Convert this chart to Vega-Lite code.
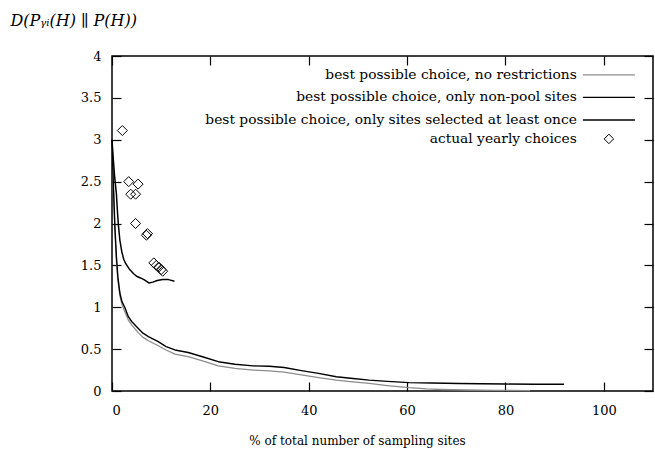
{
  "$schema": "https://vega.github.io/schema/vega-lite/v6.json",
  "width": 541,
  "height": 335,
  "autosize": {"type": "none"},
  "padding": {"left": 112, "top": 56, "right": 2, "bottom": 61},
  "background": "white",
  "config": {
    "font": "DejaVu Serif",
    "view": {"stroke": "#000", "strokeWidth": 1.5},
    "axis": {
      "domain": false,
      "grid": false,
      "labelFont": "DejaVu Serif",
      "labelFontSize": 13,
      "labelColor": "#000",
      "tickColor": "#000",
      "tickWidth": 1.2,
      "titleFont": "DejaVu Serif",
      "titleFontSize": 12,
      "titleFontWeight": "normal",
      "titleColor": "#000"
    },
    "legend": {
      "labelFont": "DejaVu Serif",
      "labelFontSize": 13.8,
      "labelColor": "#000",
      "labelLimit": 0,
      "padding": 0
    }
  },
  "datasets": {
    "lines": [
      {"s": "a", "x": 0, "y": 2.98}, {"s": "a", "x": 0.2, "y": 2.55}, {"s": "a", "x": 0.4, "y": 2.22}, {"s": "a", "x": 0.6, "y": 1.9}, {"s": "a", "x": 0.9, "y": 1.55}, {"s": "a", "x": 1.2, "y": 1.32}, {"s": "a", "x": 1.6, "y": 1.14}, {"s": "a", "x": 2.0, "y": 1.04}, {"s": "a", "x": 2.6, "y": 0.95}, {"s": "a", "x": 3.3, "y": 0.85}, {"s": "a", "x": 4.0, "y": 0.79}, {"s": "a", "x": 5.3, "y": 0.7}, {"s": "a", "x": 6.3, "y": 0.64}, {"s": "a", "x": 7.4, "y": 0.6}, {"s": "a", "x": 9.4, "y": 0.54}, {"s": "a", "x": 11, "y": 0.49}, {"s": "a", "x": 12.8, "y": 0.44}, {"s": "a", "x": 15.5, "y": 0.41}, {"s": "a", "x": 18.9, "y": 0.35}, {"s": "a", "x": 21.6, "y": 0.3}, {"s": "a", "x": 25, "y": 0.27}, {"s": "a", "x": 28.7, "y": 0.25}, {"s": "a", "x": 32, "y": 0.24}, {"s": "a", "x": 35, "y": 0.225}, {"s": "a", "x": 38.8, "y": 0.19}, {"s": "a", "x": 42, "y": 0.16}, {"s": "a", "x": 45.6, "y": 0.13}, {"s": "a", "x": 49, "y": 0.11}, {"s": "a", "x": 52.3, "y": 0.09}, {"s": "a", "x": 56, "y": 0.065}, {"s": "a", "x": 60.4, "y": 0.04}, {"s": "a", "x": 64, "y": 0.025}, {"s": "a", "x": 67.1, "y": 0.018}, {"s": "a", "x": 72, "y": 0.012}, {"s": "a", "x": 78, "y": 0.008}, {"s": "a", "x": 85, "y": 0.005},
      {"s": "b", "x": 0, "y": 3.0}, {"s": "b", "x": 0.2, "y": 2.6}, {"s": "b", "x": 0.4, "y": 2.27}, {"s": "b", "x": 0.6, "y": 1.95}, {"s": "b", "x": 0.9, "y": 1.6}, {"s": "b", "x": 1.2, "y": 1.36}, {"s": "b", "x": 1.6, "y": 1.17}, {"s": "b", "x": 2.0, "y": 1.07}, {"s": "b", "x": 2.6, "y": 1.0}, {"s": "b", "x": 3.3, "y": 0.89}, {"s": "b", "x": 4.0, "y": 0.83}, {"s": "b", "x": 5.3, "y": 0.75}, {"s": "b", "x": 6.3, "y": 0.69}, {"s": "b", "x": 7.4, "y": 0.65}, {"s": "b", "x": 9.4, "y": 0.59}, {"s": "b", "x": 11, "y": 0.53}, {"s": "b", "x": 12.8, "y": 0.49}, {"s": "b", "x": 15.5, "y": 0.46}, {"s": "b", "x": 18.9, "y": 0.4}, {"s": "b", "x": 21.6, "y": 0.35}, {"s": "b", "x": 25, "y": 0.32}, {"s": "b", "x": 28.7, "y": 0.3}, {"s": "b", "x": 32, "y": 0.295}, {"s": "b", "x": 35, "y": 0.28}, {"s": "b", "x": 38.8, "y": 0.24}, {"s": "b", "x": 42, "y": 0.21}, {"s": "b", "x": 45.6, "y": 0.17}, {"s": "b", "x": 49, "y": 0.15}, {"s": "b", "x": 52.3, "y": 0.13}, {"s": "b", "x": 56, "y": 0.115}, {"s": "b", "x": 60.4, "y": 0.1}, {"s": "b", "x": 65, "y": 0.095}, {"s": "b", "x": 70.6, "y": 0.09}, {"s": "b", "x": 75, "y": 0.087}, {"s": "b", "x": 80, "y": 0.083}, {"s": "b", "x": 86, "y": 0.08}, {"s": "b", "x": 91.9, "y": 0.08},
      {"s": "c", "x": 0, "y": 3.0}, {"s": "c", "x": 0.25, "y": 2.78}, {"s": "c", "x": 0.55, "y": 2.55}, {"s": "c", "x": 0.9, "y": 2.35}, {"s": "c", "x": 1.1, "y": 2.15}, {"s": "c", "x": 1.3, "y": 1.98}, {"s": "c", "x": 1.6, "y": 1.8}, {"s": "c", "x": 2.0, "y": 1.66}, {"s": "c", "x": 2.4, "y": 1.57}, {"s": "c", "x": 2.8, "y": 1.52}, {"s": "c", "x": 3.6, "y": 1.45}, {"s": "c", "x": 4.4, "y": 1.4}, {"s": "c", "x": 5.0, "y": 1.37}, {"s": "c", "x": 5.8, "y": 1.35}, {"s": "c", "x": 6.5, "y": 1.33}, {"s": "c", "x": 7.5, "y": 1.29}, {"s": "c", "x": 8.3, "y": 1.3}, {"s": "c", "x": 9.2, "y": 1.32}, {"s": "c", "x": 10.3, "y": 1.33}, {"s": "c", "x": 11.5, "y": 1.33}, {"s": "c", "x": 12.7, "y": 1.31}
    ],
    "points": [
      {"k": "actual yearly choices", "x": 2.1, "y": 3.11}, {"k": "actual yearly choices", "x": 3.4, "y": 2.5}, {"k": "actual yearly choices", "x": 5.3, "y": 2.47}, {"k": "actual yearly choices", "x": 3.8, "y": 2.35}, {"k": "actual yearly choices", "x": 4.8, "y": 2.35}, {"k": "actual yearly choices", "x": 4.8, "y": 2.0}, {"k": "actual yearly choices", "x": 7.0, "y": 1.86}, {"k": "actual yearly choices", "x": 7.2, "y": 1.88}, {"k": "actual yearly choices", "x": 8.5, "y": 1.53}, {"k": "actual yearly choices", "x": 9.0, "y": 1.5}, {"k": "actual yearly choices", "x": 9.5, "y": 1.48}, {"k": "actual yearly choices", "x": 10.0, "y": 1.45}, {"k": "actual yearly choices", "x": 10.3, "y": 1.43}
    ]
  },
  "layer": [
    {
      "data": {"name": "lines"},
      "mark": {"type": "line", "strokeJoin": "round"},
      "encoding": {
        "x": {
          "field": "x", "type": "quantitative",
          "scale": {"domain": [0, 110], "nice": false, "zero": false},
          "axis": {
            "orient": "bottom",
            "values": [0, 20, 40, 60, 80, 100],
            "tickSize": -9,
            "labelPadding": 22,
            "title": "% of total number of sampling sites",
            "titleX": 245,
            "titleY": 49,
            "titleBaseline": "middle"
          }
        },
        "y": {
          "field": "y", "type": "quantitative",
          "scale": {"domain": [0, 4], "nice": false, "zero": false},
          "axis": {
            "orient": "left",
            "values": [0, 0.5, 1, 1.5, 2, 2.5, 3, 3.5, 4],
            "format": "~g",
            "tickSize": -9,
            "labelPadding": 20,
            "title": "D(Pᵧᵢ(H)  ∥  P(H))",
            "titleAngle": 0,
            "titleAlign": "left",
            "titleBaseline": "middle",
            "titleFontStyle": "italic",
            "titleFontSize": 16,
            "titleX": -102,
            "titleY": -36
          }
        },
        "color": {
          "field": "s", "type": "nominal",
          "scale": {"domain": ["a", "b", "c"], "range": ["#8c8c8c", "#000000", "#000000"]},
          "legend": {
            "orient": "none",
            "legendX": 490,
            "legendY": 12,
            "title": null,
            "labelAlign": "right",
            "labelOffset": -39,
            "symbolType": "M-5.2,0H5.2",
            "symbolSize": 100,
            "rowPadding": 7.5,
            "labelExpr": "datum.value == 'a' ? 'best possible choice, no restrictions' : datum.value == 'b' ? 'best possible choice, only non-pool sites' : 'best possible choice, only sites selected at least once'"
          }
        },
        "strokeWidth": {
          "field": "s", "type": "nominal",
          "scale": {"domain": ["a", "b", "c"], "range": [1.3, 1.5, 2.3]},
          "legend": {
            "orient": "none",
            "legendX": 490,
            "legendY": 12,
            "title": null,
            "labelAlign": "right",
            "labelOffset": -39,
            "symbolType": "M-5.2,0H5.2",
            "symbolSize": 100,
            "rowPadding": 7.5,
            "labelExpr": "datum.value == 'a' ? 'best possible choice, no restrictions' : datum.value == 'b' ? 'best possible choice, only non-pool sites' : 'best possible choice, only sites selected at least once'"
          }
        }
      }
    },
    {
      "data": {"name": "points"},
      "mark": {"type": "point", "filled": false, "size": 100, "stroke": "#000", "strokeWidth": 1, "opacity": 1},
      "encoding": {
        "x": {"field": "x", "type": "quantitative", "axis": null},
        "y": {"field": "y", "type": "quantitative", "axis": null},
        "shape": {
          "field": "k", "type": "nominal",
          "scale": {"domain": ["actual yearly choices"], "range": ["diamond"]},
          "legend": {
            "orient": "none",
            "legendX": 490,
            "legendY": 76,
            "title": null,
            "labelAlign": "right",
            "labelOffset": -39,
            "symbolSize": 90,
            "symbolStrokeColor": "#000",
            "symbolFillColor": "transparent",
            "symbolStrokeWidth": 1
          }
        }
      }
    },
    {
      "data": {"name": "points"},
      "mark": {"type": "point", "opacity": 0},
      "encoding": {
        "x": {
          "field": "x", "type": "quantitative",
          "axis": {"orient": "top", "values": [0, 20, 40, 60, 80, 100], "tickSize": -9, "labels": false, "title": null}
        },
        "y": {
          "field": "y", "type": "quantitative",
          "axis": {"orient": "right", "values": [0, 0.5, 1, 1.5, 2, 2.5, 3, 3.5, 4], "tickSize": -9, "labels": false, "title": null}
        }
      }
    }
  ],
  "resolve": {"axis": {"x": "independent", "y": "independent"}}
}
